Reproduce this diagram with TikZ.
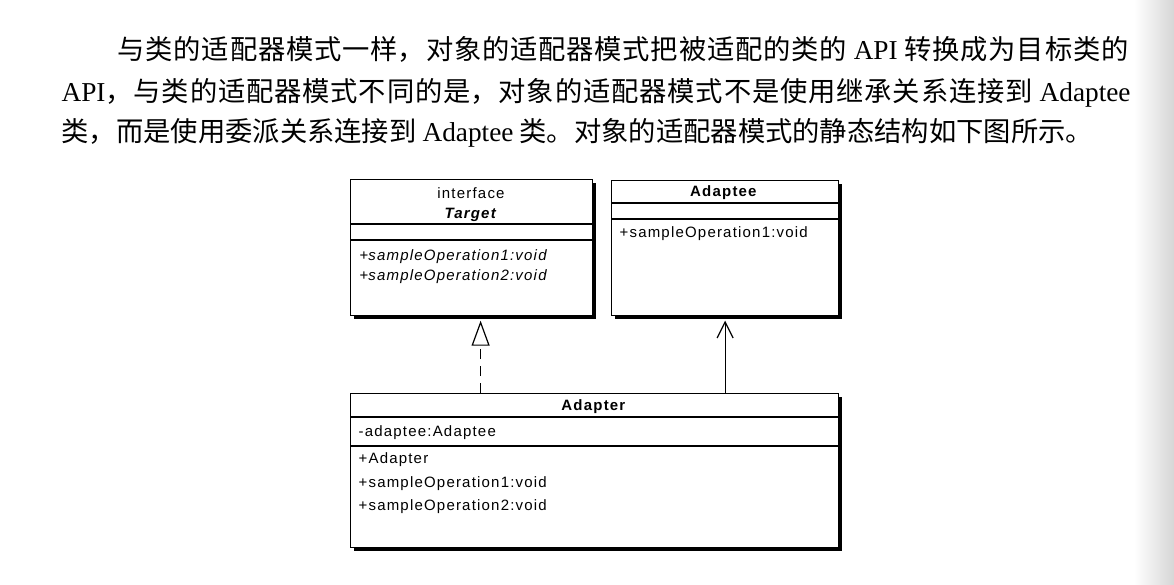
\documentclass[tikz,border=0pt]{standalone}
\usepackage{fontspec}
\setmainfont{Liberation Serif}
\newfontfamily\cjk{Noto Sans CJK SC}
\newfontfamily\uml[LetterSpace=8]{Liberation Sans}
\usetikzlibrary{
    arrows.meta,
    shadows
}
\XeTeXlinebreaklocale "zh"
\XeTeXlinebreakskip = 0pt plus 4pt
\tikzset{
    every picture/.style = {
        x = 1pt,
        y = -1pt,
        line width = 1.2pt
    },
    classbox/.style = {
        draw,
        fill = white,
        inner sep = 0pt,
        anchor = north west,
        drop shadow = {shadow xshift = 3pt, shadow yshift = -3pt, fill = black, opacity = 1}
    },
    member/.style = {
        inner sep = 0pt,
        anchor = west,
        font = \uml\fontsize{15}{18}\selectfont
    },
    title/.style = {
        member,
        anchor = center
    },
    para/.style = {
        inner sep = 0pt,
        anchor = base west,
        font = \cjk\fontsize{27.3}{41}\selectfont
    }
}
\newcommand{\fullline}[2]{\parbox[b]{#1}{\parfillskip=0pt #2}}

\begin{document}
\begin{tikzpicture}
    % \draw[step = 50, lightgray, very thin] (0, 0) grid (1174, 584);
    \useasboundingbox (0, 0) rectangle (1174, 584);
    \shade[left color = white, right color = black!16, draw = none] (1134, 0) rectangle (1174, 584);

    \node[para] (line1) at (117, 59) {\fullline{1011pt}{与类的适配器模式一样，对象的适配器模式把被适配的类的 {\rmfamily API} 转换成为目标类的}};
    \node[para] (line2) at (61, 101) {\fullline{1069pt}{{\rmfamily API}，与类的适配器模式不同的是，对象的适配器模式不是使用继承关系连接到 {\rmfamily Adaptee}}};
    \node[para] (line3) at (61, 141) {类，而是使用委派关系连接到 {\rmfamily Adaptee} 类。对象的适配器模式的静态结构如下图所示。};

    \node[classbox, minimum width = 242pt, minimum height = 136pt] (target) at (350, 179) {};
    \node[classbox, minimum width = 227pt, minimum height = 135pt] (adaptee) at (611, 180) {};
    \node[classbox, minimum width = 488pt, minimum height = 154pt] (adapter) at (350, 393) {};

    \draw (target.west |- 0, 224) -- (target.east |- 0, 224);
    \draw (target.west |- 0, 240) -- (target.east |- 0, 240);
    \draw (adaptee.west |- 0, 203) -- (adaptee.east |- 0, 203);
    \draw (adaptee.west |- 0, 219) -- (adaptee.east |- 0, 219);
    \draw (adapter.west |- 0, 417) -- (adapter.east |- 0, 417);
    \draw (adapter.west |- 0, 446) -- (adapter.east |- 0, 446);

    \node[title] (target-kind) at (471, 193) {interface};
    \node[title] (target-name) at (471, 215) {\textbf{\textit{Target}}};
    \node[member] (target-op1) at (359, 257) {+\textit{sampleOperation1:void}};
    \node[member] (target-op2) at (359, 277) {+\textit{sampleOperation2:void}};

    \node[title] (adaptee-name) at (724, 193) {\textbf{Adaptee}};
    \node[member] (adaptee-op1) at (619, 234) {+sampleOperation1:void};

    \node[title] (adapter-name) at (594, 407) {\textbf{Adapter}};
    \node[member] (adapter-field) at (358, 433) {-adaptee:Adaptee};
    \node[member] (adapter-ctor) at (358, 460) {+Adapter};
    \node[member] (adapter-op1) at (358, 484) {+sampleOperation1:void};
    \node[member] (adapter-op2) at (358, 507) {+sampleOperation2:void};

    \draw[dash pattern = on 10pt off 7pt, -{Triangle[open, length = 25pt, width = 18pt]}, shorten > = 4.5pt]
        ([xshift = 9pt]target.south |- adapter.north) -- ([xshift = 9pt]target.south);
    \draw[-{Straight Barb[length = 16pt, width = 16pt]}, shorten > = 4.5pt]
        (adaptee.south |- adapter.north) -- (adaptee.south);
\end{tikzpicture}
\end{document}
